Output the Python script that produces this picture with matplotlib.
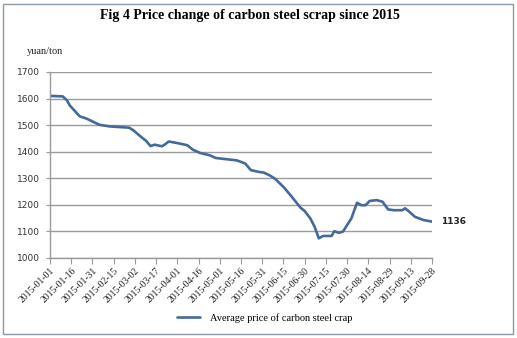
import matplotlib
matplotlib.use("Agg")
import matplotlib.pyplot as plt
from matplotlib.patches import Rectangle
import pandas as pd

dates = ["2015-01-01", "2015-01-10", "2015-01-13", "2015-01-15", "2015-01-17", "2015-01-22",
         "2015-01-27", "2015-02-01", "2015-02-05", "2015-02-12", "2015-02-26", "2015-03-01",
         "2015-03-06", "2015-03-10", "2015-03-13", "2015-03-16", "2015-03-21", "2015-03-23",
         "2015-03-26", "2015-04-01", "2015-04-08", "2015-04-12", "2015-04-17", "2015-04-24",
         "2015-04-28", "2015-05-06", "2015-05-13", "2015-05-19", "2015-05-23", "2015-05-29",
         "2015-06-01", "2015-06-05", "2015-06-09", "2015-06-15", "2015-06-21", "2015-06-27",
         "2015-06-30", "2015-07-04", "2015-07-07", "2015-07-10", "2015-07-13", "2015-07-19",
         "2015-07-21", "2015-07-24", "2015-07-27", "2015-07-30", "2015-08-02", "2015-08-06",
         "2015-08-09", "2015-08-12", "2015-08-15", "2015-08-20", "2015-08-24", "2015-08-28",
         "2015-09-01", "2015-09-07", "2015-09-09", "2015-09-12", "2015-09-16", "2015-09-22",
         "2015-09-28"]
prices = [1610, 1608, 1593, 1574, 1562, 1533,
          1524, 1511, 1501, 1495, 1490, 1480,
          1457, 1440, 1421, 1426, 1420, 1426,
          1438, 1432, 1424, 1407, 1395, 1386,
          1376, 1371, 1367, 1355, 1330, 1323,
          1321, 1311, 1298, 1267, 1229, 1189,
          1176, 1148, 1117, 1073, 1082, 1082,
          1100, 1094, 1098, 1123, 1148, 1207,
          1198, 1198, 1214, 1217, 1211, 1182,
          1179, 1179, 1186, 1173, 1154, 1142,
          1136]
tick_labels = ["2015-01-01", "2015-01-16", "2015-01-31", "2015-02-15", "2015-03-02", "2015-03-17",
               "2015-04-01", "2015-04-16", "2015-05-01", "2015-05-16", "2015-05-31", "2015-06-15",
               "2015-06-30", "2015-07-15", "2015-07-30", "2015-08-14", "2015-08-29", "2015-09-13",
               "2015-09-28"]
y_ticks = [1000, 1100, 1200, 1300, 1400, 1500, 1600, 1700]
title = "Fig 4 Price change of carbon steel scrap since 2015"
unit = "yuan/ton"
series_name = "Average price of carbon steel crap"
last_label = "1136"

W, H = 517, 338
fig = plt.figure(figsize=(W / 100, H / 100), dpi=100)
fig.patch.set_facecolor("white")
fig.patches.append(Rectangle((3 / W, 4 / H), 510 / W, 330 / H, transform=fig.transFigure,
                             fill=False, edgecolor="#8a9aa8", linewidth=1))

ax = fig.add_axes([50 / W, (H - 257.7) / H, 382 / W, (257.7 - 72) / H])
x = pd.to_datetime(dates)
xt = pd.to_datetime(tick_labels)
line_color = "#44699b"
ln, = ax.plot(x, prices, color=line_color, linewidth=1.9, solid_capstyle="round",
              solid_joinstyle="round")

ax.set_xlim(xt[0], xt[-1])
ax.set_ylim(1000, 1700)
ax.set_yticks(y_ticks)
ax.set_xticks(xt)
ax.set_xticklabels(tick_labels, rotation=45, ha="right", rotation_mode="anchor",
                   family="Liberation Serif", fontsize=7, color="#222222")
ax.set_yticklabels([str(v) for v in y_ticks], family="DejaVu Sans", fontsize=6.5, color="#333333")
ax.grid(axis="y", color="#9a9a9a", linewidth=1)
ax.set_axisbelow(True)
for s in ["top", "right"]:
    ax.spines[s].set_visible(False)
for s in ["left", "bottom"]:
    ax.spines[s].set_color("#9a9a9a")
    ax.spines[s].set_linewidth(1)
ax.tick_params(axis="x", length=4, color="#9a9a9a", pad=2)
ax.tick_params(axis="y", length=3, color="#9a9a9a", pad=4)

ax.annotate(last_label, xy=(x[-1], prices[-1]), xytext=(6.5, 0), textcoords="offset points",
            va="center", ha="left", fontsize=6.5, fontweight="bold", family="DejaVu Sans",
            color="#222222")

fig.text(250 / W, 1 - 16 / H, title, ha="center", va="center", family="Liberation Serif",
         fontweight="bold", fontsize=10)
fig.text(27 / W, 1 - 51 / H, unit, ha="left", va="center", family="Liberation Serif",
         fontsize=7.5, color="#222222")

fig.legend([ln], [series_name], loc="center", bbox_to_anchor=(265 / W, 1 - 318 / H),
           frameon=False, prop={"family": "Liberation Serif", "size": 7.5},
           handlelength=2.2, handletextpad=1.0)

fig.savefig("out.png", dpi=100)
